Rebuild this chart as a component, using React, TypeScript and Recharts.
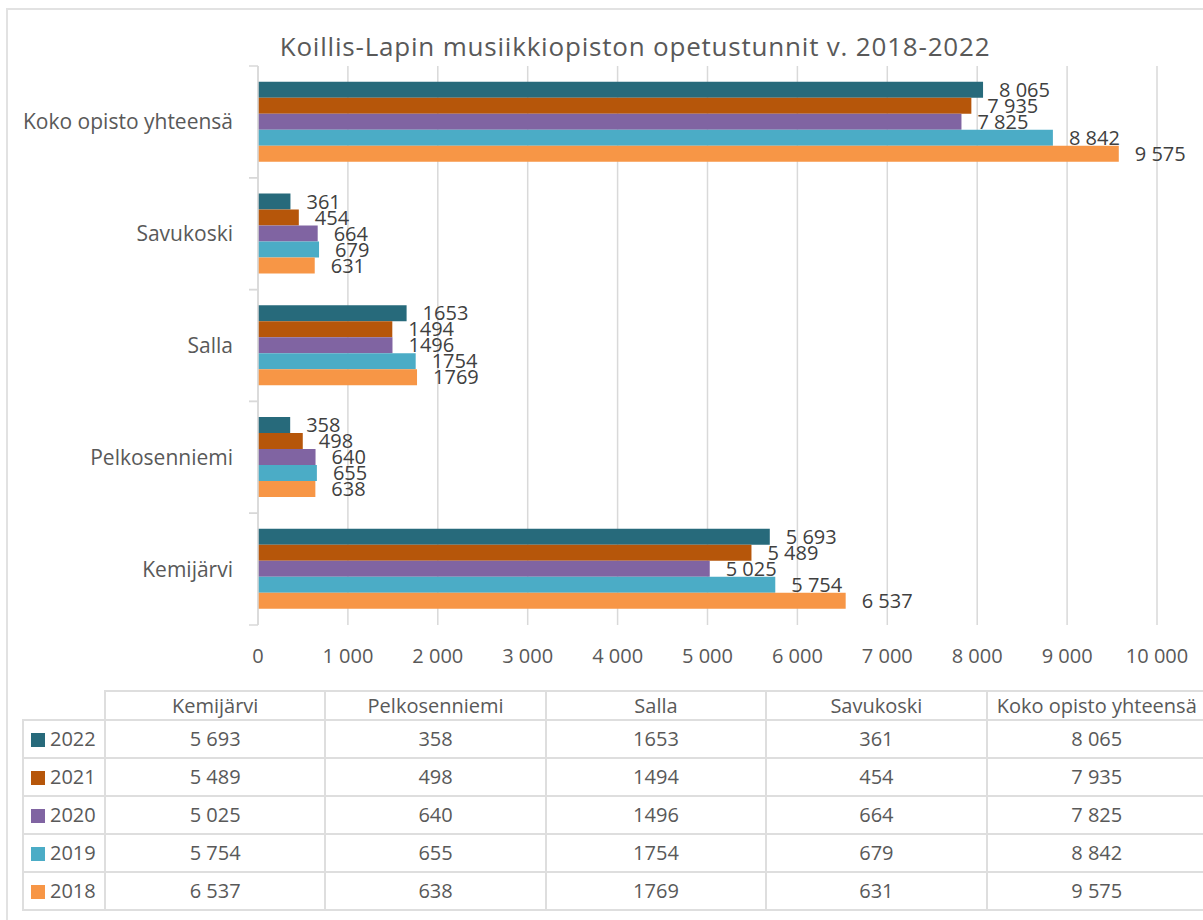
import React from 'react';
import { BarChart, Bar, XAxis, YAxis, CartesianGrid, LabelList } from 'recharts';

const categories = ['Kemijärvi', 'Pelkosenniemi', 'Salla', 'Savukoski', 'Koko opisto yhteensä'];
const years = ['2022', '2021', '2020', '2019', '2018'];
const v2022 = [5693, 358, 1653, 361, 8065];
const v2021 = [5489, 498, 1494, 454, 7935];
const v2020 = [5025, 640, 1496, 664, 7825];
const v2019 = [5754, 655, 1754, 679, 8842];
const v2018 = [6537, 638, 1769, 631, 9575];
const xTicks = [0, 1000, 2000, 3000, 4000, 5000, 6000, 7000, 8000, 9000, 10000];
// Salla numbers are shown without a thousands separator in the source
const plainCategories = ['Salla'];

const seriesValues: Record<string, number[]> = {
  '2022': v2022,
  '2021': v2021,
  '2020': v2020,
  '2019': v2019,
  '2018': v2018,
};

const colors: Record<string, string> = {
  '2022': '#276A7B',
  '2021': '#B6560A',
  '2020': '#8064A2',
  '2019': '#4BACC6',
  '2018': '#F79646',
};

const FONT = '"Open Sans", sans-serif';

const group = (v: number) => String(v).replace(/\B(?=(\d{3})+(?!\d))/g, ' ');
const fmt = (v: number, cat: string) => (plainCategories.includes(cat) ? String(v) : group(v));

const data = categories.map((name, i) => {
  const row: Record<string, string | number> = { name };
  years.forEach((y) => {
    row[y] = seriesValues[y][i];
    row[`${y}_label`] = fmt(seriesValues[y][i], name);
  });
  return row;
});

const CHART_H = 680;
const MARGIN = { top: 66, right: 46, left: 0, bottom: 0 };
const X_AXIS_H = 55;
const Y_AXIS_W = 258;
const plotH = CHART_H - MARGIN.top - MARGIN.bottom - X_AXIS_H;
const halfBand = plotH / categories.length / 2;

const CategoryTick = (props: any) => {
  const { x, y, payload } = props;
  const ax = x + 25;
  return (
    <g>
      <text x={x} y={y} dy="0.357em" textAnchor="end" fill="#595959" fontSize={21} fontFamily={FONT}>
        {payload.value}
      </text>
      <line x1={ax - 9} x2={ax} y1={y - halfBand} y2={y - halfBand} stroke="#d9d9d9" strokeWidth={1.5} />
      <line x1={ax - 9} x2={ax} y1={y + halfBand} y2={y + halfBand} stroke="#d9d9d9" strokeWidth={1.5} />
    </g>
  );
};

const cellBorder = '2px solid #dedede';

export default function App() {
  return (
    <div style={{ position: 'absolute', left: 0, top: 0, width: 1203, height: 920, background: '#fff', overflow: 'hidden', fontFamily: FONT }}>
      <div style={{ position: 'absolute', left: 6, top: 8, width: 1300, height: 1000, border: '2px solid #e2e2e2' }} />
      <div
        style={{
          position: 'absolute',
          left: 85,
          top: 33,
          width: 1100,
          textAlign: 'center',
          fontSize: 26,
          lineHeight: '26px',
          letterSpacing: 0.8,
          color: '#595959',
        }}
      >
        Koillis-Lapin musiikkiopiston opetustunnit v. 2018-2022
      </div>
      <div style={{ position: 'absolute', left: 0, top: 0 }}>
        <BarChart
          width={1203}
          height={CHART_H}
          data={data}
          layout="vertical"
          margin={MARGIN}
          barCategoryGap="14%"
          barGap={0}
        >
          <CartesianGrid horizontal={false} vertical stroke="#d9d9d9" strokeWidth={1.5} />
          <XAxis
            type="number"
            domain={[0, 10000]}
            ticks={xTicks}
            interval={0}
            height={X_AXIS_H}
            axisLine={false}
            tickLine={false}
            tickSize={0}
            tickMargin={24}
            tickFormatter={(v: number) => group(v)}
            tick={{ fill: '#595959', fontSize: 20, fontFamily: FONT }}
          />
          <YAxis
            type="category"
            dataKey="name"
            reversed
            width={Y_AXIS_W}
            axisLine={{ stroke: '#d9d9d9', strokeWidth: 1.5 }}
            tickLine={false}
            tickSize={0}
            tickMargin={25}
            interval={0}
            tick={<CategoryTick />}
          />
          {years.map((y) => (
            <Bar key={y} dataKey={y} fill={colors[y]} isAnimationActive={false}>
              <LabelList
                dataKey={`${y}_label`}
                position="right"
                offset={16}
                fill="#404040"
                fontSize={20}
                fontFamily={FONT}
              />
            </Bar>
          ))}
        </BarChart>
      </div>
      <table
        style={{
          position: 'absolute',
          left: 22,
          top: 690,
          width: 1184,
          borderCollapse: 'collapse',
          tableLayout: 'fixed',
          fontSize: 20,
          color: '#595959',
        }}
      >
        <colgroup>
          <col style={{ width: 82 }} />
          {categories.map((c) => (
            <col key={c} style={{ width: 220.4 }} />
          ))}
        </colgroup>
        <thead>
          <tr style={{ height: 29 }}>
            <th style={{ border: 'none', padding: 0 }} />
            {categories.map((c) => (
              <th
                key={c}
                style={{ border: cellBorder, fontWeight: 'normal', padding: 0, textAlign: 'center', whiteSpace: 'nowrap', lineHeight: '24px' }}
              >
                {c}
              </th>
            ))}
          </tr>
        </thead>
        <tbody>
          {years.map((y) => (
            <tr key={y} style={{ height: 38 }}>
              <td style={{ border: cellBorder, padding: '0 0 0 7px', whiteSpace: 'nowrap', lineHeight: '24px' }}>
                <span style={{ display: 'inline-block', width: 14, height: 14, background: colors[y], marginRight: 5, verticalAlign: '-1px' }} />
                {y}
              </td>
              {categories.map((c, i) => (
                <td key={c} style={{ border: cellBorder, padding: 0, textAlign: 'center', lineHeight: '24px' }}>
                  {fmt(seriesValues[y][i], c)}
                </td>
              ))}
            </tr>
          ))}
        </tbody>
      </table>
    </div>
  );
}
